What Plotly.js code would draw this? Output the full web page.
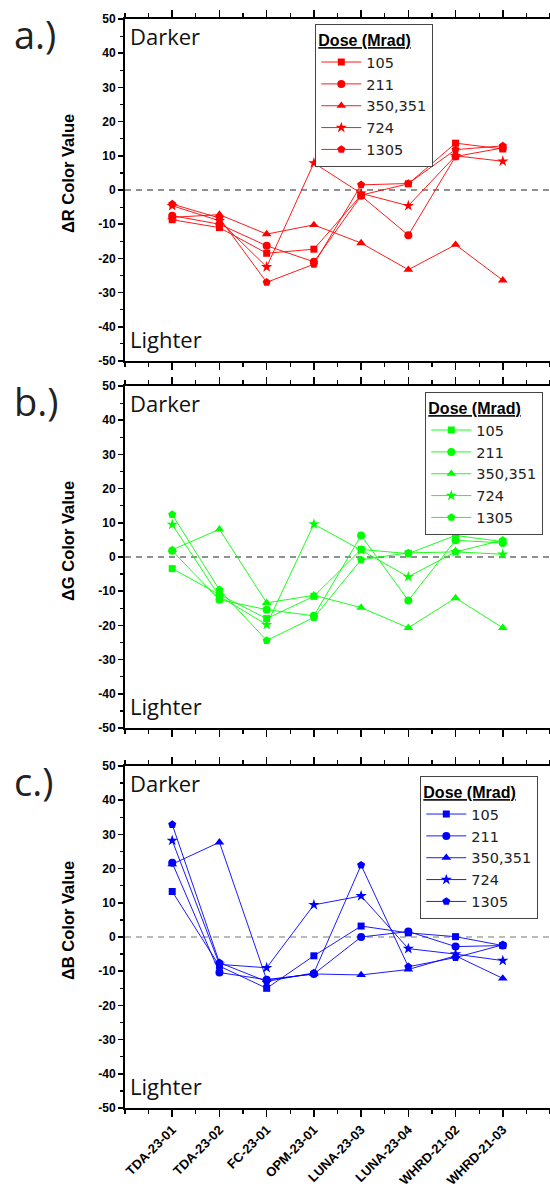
<!DOCTYPE html>
<html>
<head>
<meta charset="utf-8">
<script src="https://cdn.plot.ly/plotly-3.0.1.min.js"></script>
<style>
  html, body { margin: 0; padding: 0; background: #fff; }
  #chart { width: 550px; height: 1188px; }
</style>
</head>
<body>
<div id="chart"></div>
<script>
// Samples along the x axis
const samples = ['TDA-23-01', 'TDA-23-02', 'FC-23-01', 'OPM-23-01', 'LUNA-23-03', 'LUNA-23-04', 'WHRD-21-02', 'WHRD-21-03'];

// Dose groups (Mrad)
const doses = ['105', '211', '350,351', '724', '1305'];

// ΔR colour value per dose
const red105  = [-8.7, -11.0, -18.5, -17.3, -1.5, 1.8, 13.7, 12.0];
const red211  = [-7.5, -10.0, -16.3, -21.0, -1.7, -13.2, 9.8, 12.3];
const red350  = [-8.0, -7.2, -12.9, -10.2, -15.5, -23.3, -16.0, -26.4];
const red724  = [-4.6, -9.0, -22.5, 7.9, -1.0, -4.6, 10.0, 8.4];
const red1305 = [-4.1, -8.2, -27.0, -21.7, 1.5, 1.9, 11.8, 12.9];

// ΔG colour value per dose
const green105  = [-3.4, -11.0, -18.0, -11.5, 2.2, 1.0, 6.3, 4.5];
const green211  = [1.8, -12.5, -15.4, -17.2, 6.3, -12.7, 4.9, 4.1];
const green350  = [2.1, 8.1, -13.4, -11.2, -14.8, -20.7, -12.0, -20.7];
const green724  = [9.5, -11.5, -19.8, 9.6, 2.0, -5.8, 1.5, 0.8];
const green1305 = [12.4, -9.6, -24.4, -17.7, -0.8, 1.2, 1.5, 4.9];

// ΔB colour value per dose
const blue105  = [13.3, -8.5, -15.0, -5.5, 3.2, 1.2, 0.1, -2.5];
const blue211  = [21.7, -10.4, -12.5, -10.8, 0.0, 1.6, -2.8, -2.5];
const blue350  = [21.3, 27.7, -12.5, -10.8, -11.1, -9.5, -5.5, -12.1];
const blue724  = [28.2, -8.0, -9.0, 9.4, 12.0, -3.4, -5.0, -6.9];
const blue1305 = [32.9, -7.5, -13.0, -10.5, 21.0, -8.7, -6.0, -2.3];

// Y tick labels (plain hyphen minus)
const yTickVals = [-50, -40, -30, -20, -10, 0, 10, 20, 30, 40, 50];
const yTickText = ['-50', '-40', '-30', '-20', '-10', '0', '10', '20', '30', '40', '50'];

const panelLabels = ['a.)', 'b.)', 'c.)'];
const axisTitles = ['ΔR Color Value', 'ΔG Color Value', 'ΔB Color Value'];

// ---- layout helpers ----
const W = 550, H = 1188;
const M = { l: 125, r: 0, t: 19, b: 80 };
const plotW = W - M.l - M.r;
const plotH = H - M.t - M.b;
const px = x => (x - M.l) / plotW;          // pixel x -> paper x
const py = y => (H - M.b - y) / plotH;      // pixel y -> paper y

const panels = [
  { series: [red105, red211, red350, red724, red1305], color: '#ff0000', top: 19, bottom: 361, zero: '#222', legendLeft: 315, legendTop: 24 },
  { series: [green105, green211, green350, green724, green1305], color: '#00ff00', top: 386, bottom: 728, zero: '#222', legendLeft: 425, legendTop: 392 },
  { series: [blue105, blue211, blue350, blue724, blue1305], color: '#0000ff', top: 766, bottom: 1108, zero: '#777', legendLeft: 420, legendTop: 776 }
];

const symbols = ['square', 'circle', 'triangle-up', 'star', 'pentagon'];
const sizes = [7, 8, 8.5, 8.5, 8.5];
const xIdx = samples.map((_, i) => i);

const traces = [];
const layout = {
  width: W, height: H,
  margin: M,
  paper_bgcolor: '#fff',
  plot_bgcolor: '#fff',
  font: { family: 'Liberation Sans, Arial, sans-serif', color: '#000' },
  showlegend: true,
  shapes: [],
  annotations: []
};

const legendNames = ['legend', 'legend2', 'legend3'];

panels.forEach((p, k) => {
  const n = k === 0 ? '' : String(k + 1);
  const xa = 'x' + n, ya = 'y' + n;

  p.series.forEach((vals, d) => {
    traces.push({
      type: 'scatter',
      mode: 'lines+markers',
      x: xIdx,
      y: vals,
      xaxis: xa, yaxis: ya,
      name: doses[d],
      legend: legendNames[k],
      line: { color: p.color, width: 0.9 },
      marker: { symbol: symbols[d], size: sizes[d], color: p.color, line: { width: 0 } },
      cliponaxis: false
    });
  });

  layout['xaxis' + n] = {
    anchor: ya,
    domain: [0, 1],
    type: 'linear',
    range: [-1, 8],
    tickmode: 'array',
    tickvals: xIdx,
    ticktext: samples,
    showticklabels: k === 2,
    tickangle: -45,
    tickfont: { family: 'Liberation Sans, Arial, sans-serif', size: 13, color: '#000', weight: 'bold' },
    ticks: 'outside', ticklen: 7, tickwidth: 1.5, tickcolor: '#000',
    minor: { dtick: 0.5, tick0: 0, ticks: 'outside', ticklen: 4, tickwidth: 1.3, tickcolor: '#000' },
    showline: true, linecolor: '#000', linewidth: 2,
    mirror: 'ticks',
    showgrid: false, zeroline: false,
    fixedrange: true
  };

  layout['yaxis' + n] = {
    anchor: xa,
    domain: [py(p.bottom), py(p.top)],
    range: [-50, 50],
    tickmode: 'array',
    tickvals: yTickVals,
    ticktext: yTickText,
    tickfont: { family: 'Liberation Sans, Arial, sans-serif', size: 12, color: '#000', weight: 'bold' },
    ticks: 'outside', ticklen: 5, tickwidth: 1.5, tickcolor: '#000',
    minor: { dtick: 5, tick0: 0, ticks: 'outside', ticklen: 3, tickwidth: 1.2, tickcolor: '#000' },
    showline: true, linecolor: '#000', linewidth: 2,
    showgrid: false, zeroline: false,
    fixedrange: true
  };

  // dashed reference line at zero
  layout.shapes.push({
    type: 'line', xref: xa + ' domain', yref: ya,
    x0: 0, x1: 1, y0: 0, y1: 0,
    line: { color: p.zero, width: 1.2, dash: '6px,5px' },
    layer: 'below'
  });

  // legend box for this panel
  layout[legendNames[k]] = {
    x: px(p.legendLeft), y: py(p.legendTop),
    xanchor: 'left', yanchor: 'top',
    xref: 'paper', yref: 'paper',
    bgcolor: '#fff',
    bordercolor: '#444', borderwidth: 1.3,
    font: { family: 'DejaVu Sans, sans-serif', size: 14.5, color: '#222' },
    title: { text: '<b><u>Dose (Mrad)</u></b>', font: { family: 'Liberation Sans, Arial, sans-serif', size: 16, color: '#000' } },
    itemwidth: 40,
    tracegroupgap: 0
  };

  // panel letter
  layout.annotations.push({
    xref: 'paper', yref: 'paper',
    x: px(12), y: py(p.top + 15),
    xanchor: 'left', yanchor: 'middle',
    text: panelLabels[k], showarrow: false,
    font: { family: 'Open Sans, sans-serif', size: 38, color: '#222' }
  });

  // axis title
  layout.annotations.push({
    xref: 'paper', yref: 'paper',
    x: px(68), y: py(p.top + 155),
    xanchor: 'center', yanchor: 'middle',
    textangle: -90,
    text: '<b>' + axisTitles[k] + '</b>', showarrow: false,
    font: { family: 'Liberation Sans, Arial, sans-serif', size: 16.5, color: '#000' }
  });

  // Darker / Lighter captions inside the plot
  layout.annotations.push({
    xref: 'paper', yref: 'paper',
    x: px(128), y: py(p.top + 17),
    xanchor: 'left', yanchor: 'middle',
    text: 'Darker', showarrow: false,
    font: { family: 'Open Sans, sans-serif', size: 22, color: '#111' }
  });
  layout.annotations.push({
    xref: 'paper', yref: 'paper',
    x: px(128), y: py(p.bottom - 22),
    xanchor: 'left', yanchor: 'middle',
    text: 'Lighter', showarrow: false,
    font: { family: 'Open Sans, sans-serif', size: 22, color: '#111' }
  });
});

Plotly.newPlot('chart', traces, layout, { displayModeBar: false, staticPlot: true });
</script>
</body>
</html>
